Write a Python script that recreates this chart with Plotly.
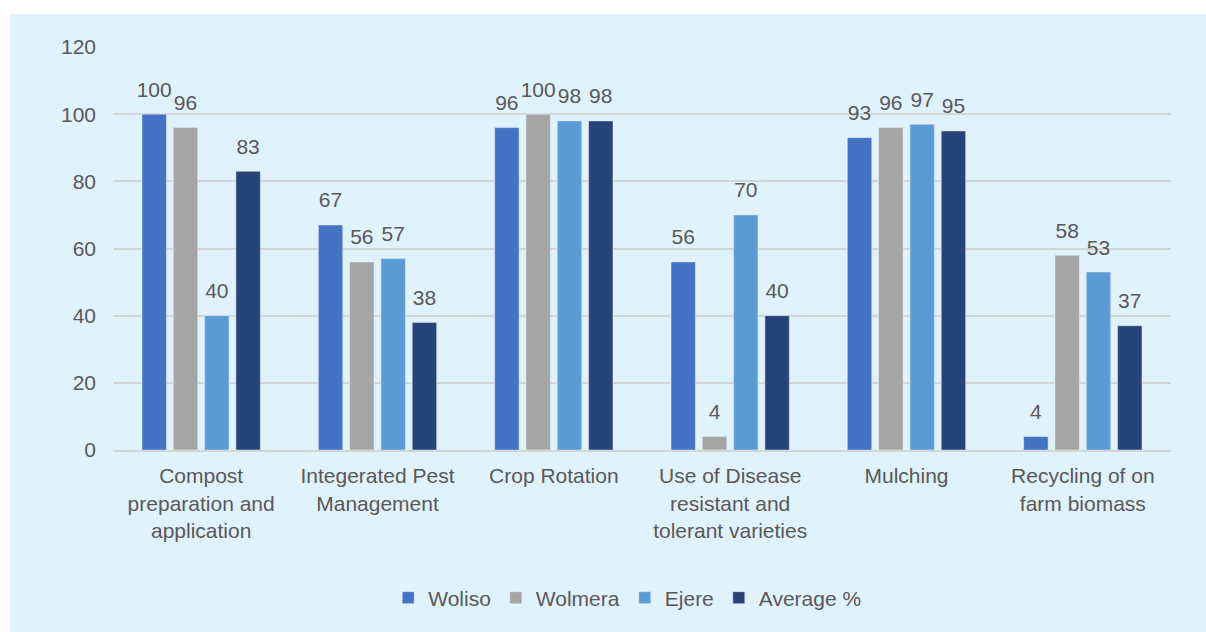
import plotly.graph_objects as go

categories = [
    "Compost<br>preparation and<br>application",
    "Integerated Pest<br>Management",
    "Crop Rotation",
    "Use of Disease<br>resistant and<br>tolerant varieties",
    "Mulching",
    "Recycling of on<br>farm biomass",
]
woliso = [100, 67, 96, 56, 93, 4]
wolmera = [96, 56, 100, 4, 96, 58]
ejere = [40, 57, 98, 70, 97, 53]
average = [83, 38, 98, 40, 95, 37]

series = [
    ("Woliso", woliso, "#4472C4"),
    ("Wolmera", wolmera, "#A5A5A5"),
    ("Ejere", ejere, "#5B9BD5"),
    ("Average %", average, "#264478"),
]

FONT = "Liberation Sans, Arial, sans-serif"
TEXT = "#595959"
BG = "#E0F2FC"
FS = 21
GAP = 0.29

fig = go.Figure()
for name, vals, color in series:
    fig.add_trace(go.Bar(
        name=name, x=categories, y=vals,
        marker=dict(color=color),
        cliponaxis=False,
    ))
# value labels: grouped text-only scatter traces sitting above each bar
for name, vals, color in series:
    fig.add_trace(go.Scatter(
        name=name, x=categories, y=vals, mode="markers+text",
        marker=dict(size=18, opacity=0),
        text=[str(v) for v in vals], textposition="top center",
        textfont=dict(family=FONT, size=FS, color=TEXT),
        showlegend=False, hoverinfo="skip", cliponaxis=False,
    ))

W, H = 1206, 632
ml, mr, mt, mb = 113, 35, 47, 182
pw, ph = W - ml - mr, H - mt - mb

def px_x(p):
    return (p - ml) / pw

def px_y(p):
    return (H - mb - p) / ph

# light blue panel behind the whole chart, leaving a thin white margin top-left
fig.add_shape(type="rect", xref="paper", yref="paper", layer="below",
              x0=px_x(10), x1=px_x(W + 5), y0=px_y(H + 5), y1=px_y(14),
              fillcolor=BG, line=dict(width=0))

fig.update_layout(
    width=W, height=H,
    margin=dict(l=ml, r=mr, t=mt, b=mb),
    paper_bgcolor="white", plot_bgcolor=BG,
    barmode="group", bargap=GAP, bargroupgap=0.22,
    scattermode="group", scattergap=GAP,
    font=dict(family=FONT, size=FS, color=TEXT),
    showlegend=True,
    legend=dict(orientation="h", x=0.486, xanchor="center", y=px_y(598), yanchor="middle",
                font=dict(family=FONT, size=FS, color=TEXT), bgcolor="rgba(0,0,0,0)",
                itemwidth=30, traceorder="normal"),
    xaxis=dict(showgrid=False, showline=True, linecolor="#D3D6D9", linewidth=2,
               ticks="", ticklabelstandoff=6, tickfont=dict(family=FONT, size=FS, color=TEXT)),
    yaxis=dict(range=[0, 120], dtick=20, showgrid=True, gridcolor="#D3D6D9", gridwidth=2,
               zeroline=False, showline=False, ticks="", ticklabelstandoff=16,
               tickfont=dict(family=FONT, size=FS, color=TEXT)),
)

fig.write_html("out.html")
